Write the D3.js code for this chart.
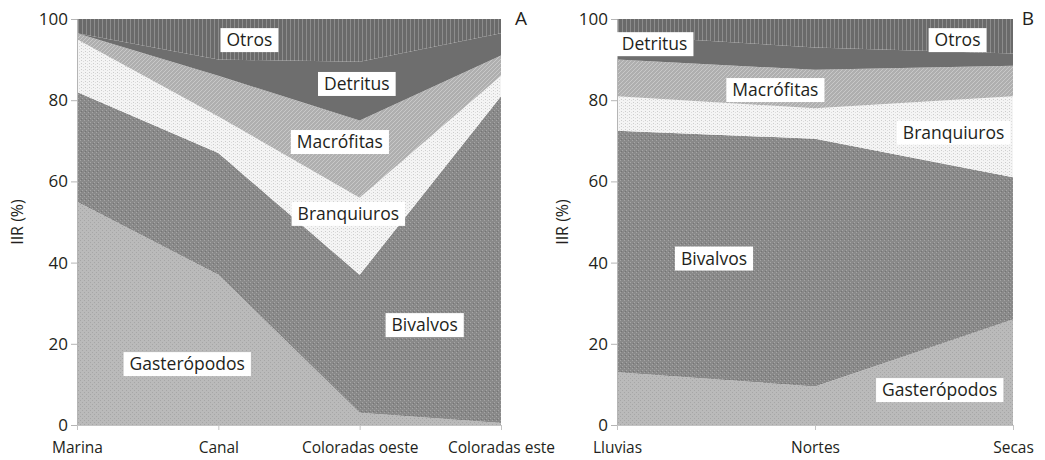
<!DOCTYPE html>
<html>
<head>
<meta charset="utf-8">
<script src="https://cdn.jsdelivr.net/npm/d3@7"></script>
<style>
  body { margin: 0; background: #fff; }
  text { font-family: "Open Sans", "Noto Sans", sans-serif; fill: #231f20; }
</style>
</head>
<body>
<div id="chart"></div>
<script>
// categories
var catsA = ["Marina", "Canal", "Coloradas oeste", "Coloradas este"];
var catsB = ["Lluvias", "Nortes", "Secas"];
var keys = ["Gasterópodos", "Bivalvos", "Branquiuros", "Macrófitas", "Detritus", "Otros"];

// series values, panel A (IIR %)
var gastA = [55, 37, 3, 0.5];
var bivA = [27, 30, 34, 80.5];
var braA = [13, 9, 19, 5];
var macA = [1.5, 10, 19, 5];
var detA = [0, 4, 14.5, 5.5];
var otrA = [3.5, 10, 10.5, 3.5];

// series values, panel B
var gastB = [13, 9.5, 26];
var bivB = [59.5, 61, 35];
var braB = [8.5, 7.5, 20];
var macB = [9, 9.5, 7.5];
var detB = [6, 5.5, 3];
var otrB = [4, 7, 8.5];

var yTicks = [0, 20, 40, 60, 80, 100];

// label spots [category index, value]
var labelsA = [
  ["Otros", 1.22, 94.8], ["Detritus", 1.98, 84], ["Macrófitas", 1.86, 69.7],
  ["Branquiuros", 1.92, 52], ["Bivalvos", 2.46, 24.6], ["Gasterópodos", 0.78, 15]
];
var labelsB = [
  ["Detritus", 0.19, 93.8], ["Otros", 1.72, 94.8], ["Macrófitas", 0.8, 82.5],
  ["Branquiuros", 1.7, 72], ["Bivalvos", 0.49, 41], ["Gasterópodos", 1.63, 8.6]
];

var svgWidth = 1045, svgHeight = 460;

var svg = d3.select("#chart").append("svg")
  .attr("width", svgWidth)
  .attr("height", svgHeight);

// textures
var defs = svg.append("defs");

function pat(id, w, h) {
  return defs.append("pattern").attr("id", id)
    .attr("patternUnits", "userSpaceOnUse")
    .attr("width", w).attr("height", h);
}

var p = pat("p-gast", 4, 4);
p.append("rect").attr("width", 4).attr("height", 4).attr("fill", "#bababa");
p.append("rect").attr("x", 0).attr("y", 0).attr("width", 1).attr("height", 1).attr("fill", "#a6a6a6");
p.append("rect").attr("x", 2).attr("y", 2).attr("width", 1).attr("height", 1).attr("fill", "#a6a6a6");

p = pat("p-biv", 4, 4);
p.append("rect").attr("width", 4).attr("height", 4).attr("fill", "#898989");
p.append("rect").attr("x", 0).attr("y", 0).attr("width", 1).attr("height", 1).attr("fill", "#a5a5a5");
p.append("rect").attr("x", 2).attr("y", 2).attr("width", 1).attr("height", 1).attr("fill", "#a5a5a5");
p.append("rect").attr("x", 1).attr("y", 3).attr("width", 1).attr("height", 1).attr("fill", "#747474");

p = pat("p-bra", 4, 3);
p.append("rect").attr("width", 4).attr("height", 3).attr("fill", "#f4f4f4");
p.append("rect").attr("x", 1).attr("y", 0).attr("width", 1).attr("height", 1).attr("fill", "#cccccc");
p.append("rect").attr("x", 3).attr("y", 1).attr("width", 1).attr("height", 1).attr("fill", "#dcdcdc");

p = pat("p-mac", 4, 4);
p.append("rect").attr("width", 4).attr("height", 4).attr("fill", "#afafaf");
p.append("path").attr("d", "M0,4 L4,0 M-1,1 L1,-1 M3,5 L5,3")
  .attr("stroke", "#c8c8c8").attr("stroke-width", 1);

p = pat("p-det", 4, 4);
p.append("rect").attr("width", 4).attr("height", 4).attr("fill", "#6e6e6e");

p = pat("p-otr", 4, 4);
p.append("rect").attr("width", 4).attr("height", 4).attr("fill", "#6a6a6a");
p.append("rect").attr("x", 2).attr("width", 1).attr("height", 4).attr("fill", "#8c8c8c");

var fills = {
  "Gasterópodos": "url(#p-gast)", "Bivalvos": "url(#p-biv)", "Branquiuros": "url(#p-bra)",
  "Macrófitas": "url(#p-mac)", "Detritus": "url(#p-det)", "Otros": "url(#p-otr)"
};

function drawPanel(cats, series, labels, left, right, axisX, letter, letterX) {
  var rows = cats.map(function (c, i) {
    var r = { cat: c };
    keys.forEach(function (k, j) { r[k] = series[j][i]; });
    return r;
  });

  var x = d3.scalePoint().domain(cats).range([left, right]);
  var y = d3.scaleLinear().domain([0, 100]).range([425, 19]);
  var xi = function (idx) { return left + idx * x.step(); };

  var stacked = d3.stack().keys(keys)(rows);

  var area = d3.area()
    .x(function (d) { return x(d.data.cat); })
    .y0(function (d) { return y(d[0]); })
    .y1(function (d) { return y(d[1]); });

  var g = svg.append("g");

  g.selectAll("path.layer")
    .data(stacked)
    .enter()
    .append("path")
    .attr("class", "layer")
    .attr("d", area)
    .attr("fill", function (d) { return fills[d.key]; });

  // y axis
  var leftAxis = d3.axisLeft(y).tickValues(yTicks).tickSize(6).tickPadding(3);
  var ya = g.append("g").attr("transform", "translate(" + left + ",0)").call(leftAxis);
  ya.select(".domain").attr("stroke", "#b5b5b5");
  ya.selectAll(".tick line").attr("stroke", "#b5b5b5");
  ya.selectAll(".tick text").style("font-size", "17px").attr("fill", "#231f20");

  // x axis
  var bottomAxis = d3.axisBottom(x).tickSize(5).tickPadding(12);
  var xa = g.append("g").attr("transform", "translate(0,425)").call(bottomAxis);
  xa.select(".domain").attr("stroke", "#c4c4c4");
  xa.selectAll(".tick line").attr("stroke", "#c4c4c4");
  xa.selectAll(".tick text").style("font-size", "15.5px").attr("fill", "#231f20");

  // axis title
  g.append("text")
    .attr("transform", "rotate(-90)")
    .attr("x", -222)
    .attr("y", axisX)
    .attr("text-anchor", "middle")
    .style("font-size", "16px")
    .text("IIR (%)");

  g.append("text")
    .attr("x", letterX)
    .attr("y", 25)
    .attr("text-anchor", "middle")
    .style("font-size", "19px")
    .text(letter);

  // white label boxes
  labels.forEach(function (l) {
    var cx = xi(l[1]), cy = y(l[2]);
    var t = g.append("text")
      .attr("x", cx)
      .attr("y", cy)
      .attr("dy", "0.35em")
      .attr("text-anchor", "middle")
      .style("font-size", "17.5px")
      .text(l[0]);
    var bb = t.node().getBBox();
    g.insert("rect", function () { return t.node(); })
      .attr("x", bb.x - 6)
      .attr("y", cy - 12)
      .attr("width", bb.width + 12)
      .attr("height", 24)
      .attr("fill", "#fff");
  });
}

drawPanel(catsA, [gastA, bivA, braA, macA, detA, otrA], labelsA, 77, 501, 23, "A", 521);
drawPanel(catsB, [gastB, bivB, braB, macB, detB, otrB], labelsB, 617, 1013, 568, "B", 1028);
</script>
</body>
</html>
